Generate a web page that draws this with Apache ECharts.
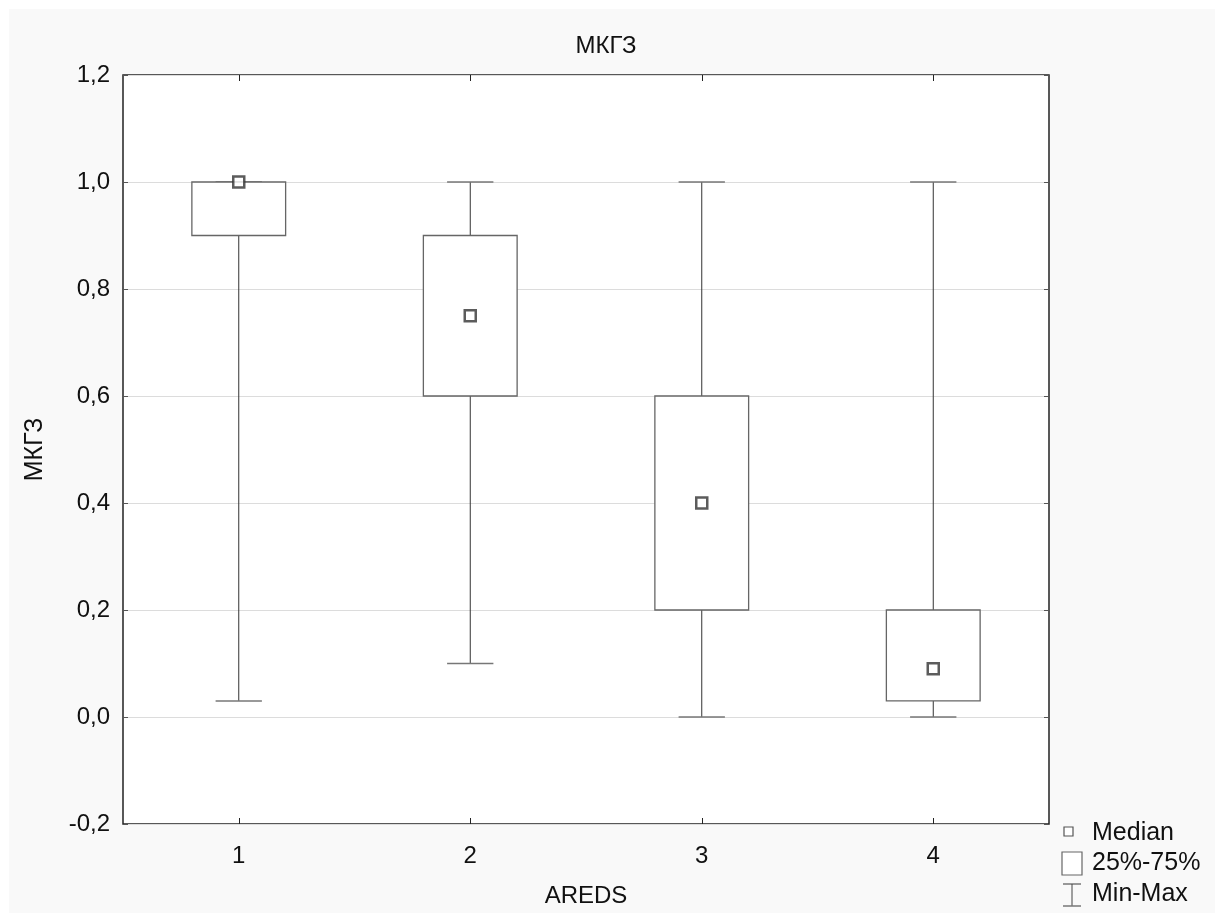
<!DOCTYPE html>
<html>
<head>
<meta charset="utf-8">
<script src="https://cdn.jsdelivr.net/npm/echarts@6/dist/echarts.min.js"></script>
<style>
html,body{margin:0;padding:0;background:#fff;width:1215px;height:913px;overflow:hidden;}
#main{position:absolute;left:0;top:0;width:1215px;height:913px;overflow:hidden;}
</style>
</head>
<body>
<div id="main"></div>
<script>
// Data
const categories = ['1', '2', '3', '4'];
const minValues    = [0.03, 0.10, 0.00, 0.00];
const q1Values     = [0.90, 0.60, 0.20, 0.03];
const medianValues = [1.00, 0.75, 0.40, 0.09];
const q3Values     = [1.00, 0.90, 0.60, 0.20];
const maxValues    = [1.00, 1.00, 1.00, 1.00];
const yTicks = { min: -0.2, max: 1.2, interval: 0.2 };

const boxData = categories.map((c, i) => [i, minValues[i], q1Values[i], q3Values[i], maxValues[i]]);
const medData = categories.map((c, i) => [i, medianValues[i]]);

const fmt = v => v.toFixed(1).replace('.', ',').replace('-0,0', '0,0');
const FONT = 'Liberation Sans, Arial, sans-serif';
const FS = 24;

const chart = echarts.init(document.getElementById('main'));
chart.setOption({
  animation: false,
  backgroundColor: 'transparent',
  title: {
    text: 'МКГЗ', left: 601, top: 29, textAlign: 'center',
    textStyle: { fontFamily: FONT, fontSize: FS, fontWeight: 'normal', color: '#111' }
  },
  graphic: [
    { type: 'rect', z: -10, silent: true, shape: { x: 9, y: 9, width: 1206, height: 904 }, style: { fill: '#f9f9f9' } },
    // legend
    { type: 'rect', z: 10, shape: { x: 1064, y: 827, width: 9, height: 9 }, style: { fill: '#fff', stroke: '#555', lineWidth: 1.2 } },
    { type: 'text', z: 10, style: { x: 1092, y: 833, text: 'Median', fontFamily: FONT, fontSize: 25, fill: '#111', verticalAlign: 'middle' } },
    { type: 'rect', z: 10, shape: { x: 1062, y: 852, width: 20, height: 23 }, style: { fill: '#fff', stroke: '#666', lineWidth: 1.2 } },
    { type: 'text', z: 10, style: { x: 1092, y: 863, text: '25%-75%', fontFamily: FONT, fontSize: 25, fill: '#111', verticalAlign: 'middle' } },
    { type: 'line', z: 10, shape: { x1: 1063, y1: 884, x2: 1081, y2: 884 }, style: { stroke: '#777', lineWidth: 1.5 } },
    { type: 'line', z: 10, shape: { x1: 1072, y1: 884, x2: 1072, y2: 906 }, style: { stroke: '#444', lineWidth: 1 } },
    { type: 'line', z: 10, shape: { x1: 1063, y1: 906, x2: 1081, y2: 906 }, style: { stroke: '#777', lineWidth: 1.5 } },
    { type: 'text', z: 10, style: { x: 1092, y: 894, text: 'Min-Max', fontFamily: FONT, fontSize: 25, fill: '#111', verticalAlign: 'middle' } }
  ],
  grid: { left: 123, right: 166, top: 75, bottom: 87, show: true, backgroundColor: '#fff', borderColor: '#222', borderWidth: 1.5 },
  xAxis: [{
    type: 'category', data: categories, position: 'bottom',
    name: 'AREDS', nameLocation: 'middle', nameGap: 60,
    nameTextStyle: { fontFamily: FONT, fontSize: FS, color: '#111' },
    axisLine: { show: false, onZero: false },
    axisTick: { show: true, inside: true, alignWithLabel: true, length: 6, lineStyle: { color: '#222' } },
    axisLabel: { fontFamily: FONT, fontSize: FS, color: '#111', margin: 20 },
    splitLine: { show: false }
  }, {
    type: 'category', data: categories, position: 'top',
    axisLine: { show: false, onZero: false },
    axisTick: { show: true, inside: true, alignWithLabel: true, length: 6, lineStyle: { color: '#222' } },
    axisLabel: { show: false }
  }],
  yAxis: [{
    type: 'value', min: yTicks.min, max: yTicks.max, interval: yTicks.interval,
    name: 'МКГЗ', nameLocation: 'middle', nameGap: 75, nameRotate: 90,
    nameTextStyle: { fontFamily: FONT, fontSize: 25, color: '#111' },
    axisLine: { show: false, onZero: false },
    axisTick: { show: true, inside: true, length: 5, lineStyle: { color: '#555' } },
    axisLabel: { fontFamily: FONT, fontSize: FS, color: '#111', margin: 13, formatter: fmt },
    splitLine: { show: true, lineStyle: { color: '#dcdcdc', width: 1 } }
  }, {
    type: 'value', min: yTicks.min, max: yTicks.max, interval: yTicks.interval, position: 'right',
    axisLine: { show: false, onZero: false },
    axisTick: { show: true, inside: true, length: 5, lineStyle: { color: '#555' } },
    axisLabel: { show: false },
    splitLine: { show: false }
  }],
  series: [{
    type: 'custom',
    data: boxData,
    encode: { x: 0, y: [1, 2, 3, 4] },
    renderItem: function (params, api) {
      const i = api.value(0);
      const pMin = api.coord([i, api.value(1)]);
      const pQ1 = api.coord([i, api.value(2)]);
      const pQ3 = api.coord([i, api.value(3)]);
      const pMax = api.coord([i, api.value(4)]);
      const band = api.size([1, 0])[0];
      const bw = band * 0.405, cw = band * 0.2;
      const x = pMin[0];
      return {
        type: 'group',
        children: [
          { type: 'line', shape: { x1: x, y1: pMax[1], x2: x, y2: pQ3[1] }, style: { stroke: '#333', lineWidth: 1 } },
          { type: 'line', shape: { x1: x, y1: pQ1[1], x2: x, y2: pMin[1] }, style: { stroke: '#333', lineWidth: 1 } },
          { type: 'line', shape: { x1: x - cw / 2, y1: pMax[1], x2: x + cw / 2, y2: pMax[1] }, style: { stroke: '#777', lineWidth: 1.5 } },
          { type: 'line', shape: { x1: x - cw / 2, y1: pMin[1], x2: x + cw / 2, y2: pMin[1] }, style: { stroke: '#777', lineWidth: 1.5 } },
          { type: 'rect', shape: { x: x - bw / 2, y: pQ3[1], width: bw, height: pQ1[1] - pQ3[1] }, style: { fill: '#fff', stroke: '#666', lineWidth: 1.3 } }
        ]
      };
    }
  }, {
    type: 'scatter',
    data: medData,
    symbol: 'rect', symbolSize: 11,
    itemStyle: { color: '#fff', borderColor: '#333', borderWidth: 2.5 },
    z: 5
  }]
});
</script>
</body>
</html>
